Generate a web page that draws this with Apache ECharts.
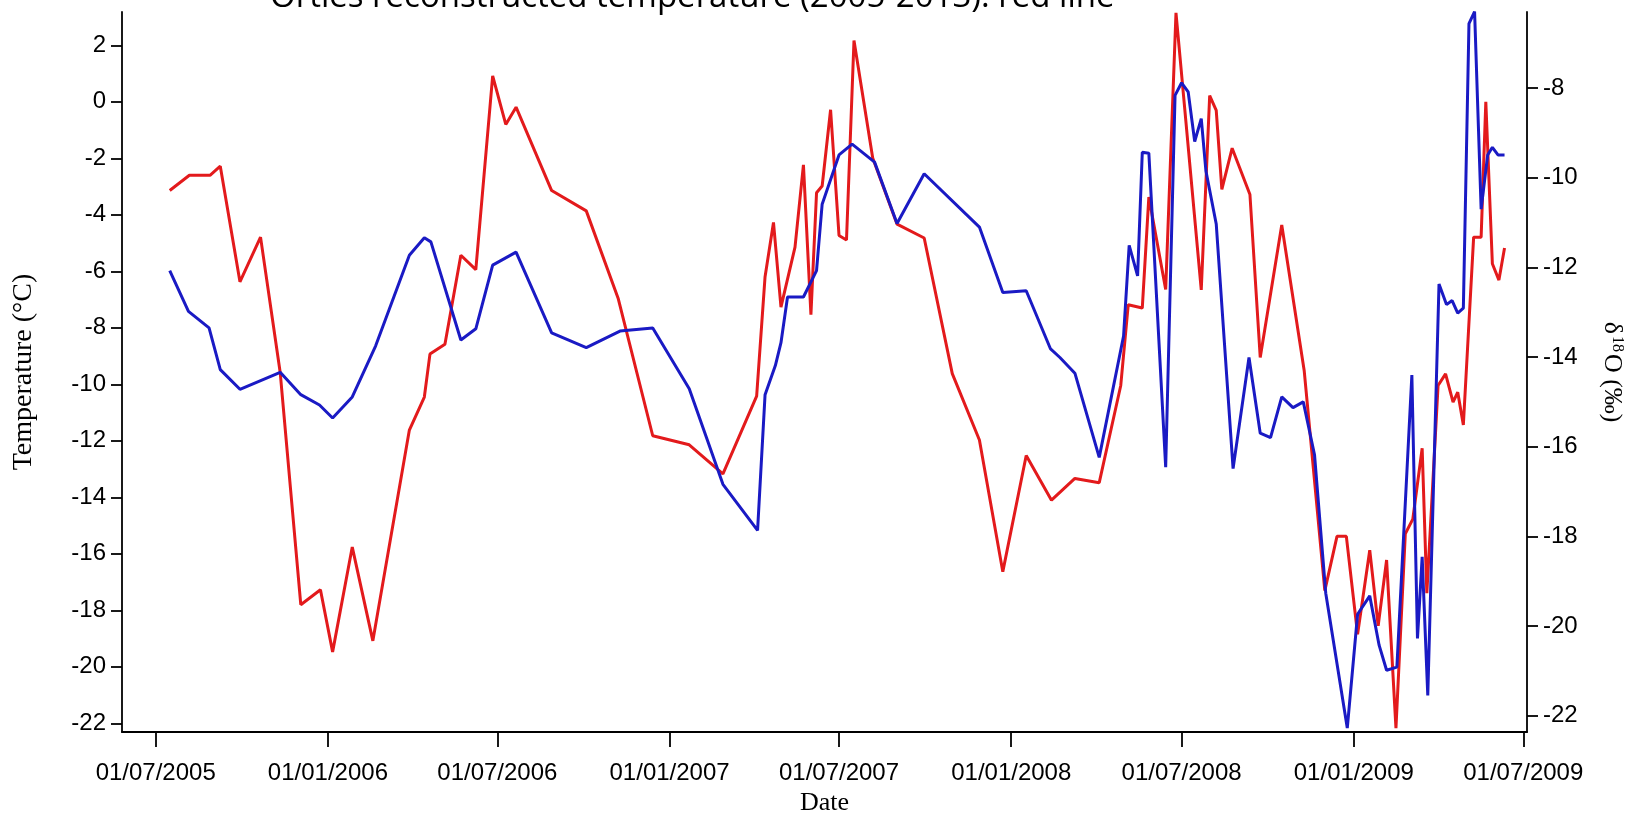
<!DOCTYPE html>
<html>
<head>
<meta charset="utf-8">
<script src="https://cdn.jsdelivr.net/npm/echarts@6/dist/echarts.min.js"></script>
<style>
  html, body { margin: 0; padding: 0; background: #ffffff; }
  #chart { width: 1639px; height: 821px; }
</style>
</head>
<body>
<div id="chart"></div>
<script>
// Reconstructed air temperature (left axis, red) and snow/ice δ18O (right axis, blue)
const titleText = 'Ortles reconstructed temperature (2005-2013): red line';

const tempDates = [
  '2005-07-16','2005-08-06','2005-08-28','2005-09-08','2005-09-29','2005-10-21','2005-11-11','2005-12-03',
  '2005-12-24','2006-01-06','2006-01-27','2006-02-18','2006-03-29','2006-04-14','2006-04-20','2006-05-06',
  '2006-05-23','2006-06-08','2006-06-26','2006-07-10','2006-07-21','2006-08-28','2006-10-04','2006-11-07',
  '2006-12-14','2007-01-22','2007-02-27','2007-04-04','2007-04-13','2007-04-22','2007-04-30','2007-05-15',
  '2007-05-24','2007-06-01','2007-06-07','2007-06-13','2007-06-22','2007-07-01','2007-07-09','2007-07-17',
  '2007-08-06','2007-09-01','2007-09-30','2007-10-30','2007-11-28','2007-12-23','2008-01-17','2008-02-13',
  '2008-03-09','2008-04-04','2008-04-27','2008-05-05','2008-05-20','2008-05-27','2008-06-14','2008-06-25',
  '2008-07-22','2008-07-31','2008-08-07','2008-08-13','2008-08-24','2008-09-12','2008-09-23','2008-10-16',
  '2008-11-09','2008-12-01','2008-12-14','2008-12-24','2009-01-05','2009-01-18','2009-01-27','2009-02-05',
  '2009-02-15','2009-02-25','2009-03-05','2009-03-15','2009-03-20','2009-04-01','2009-04-09','2009-04-17',
  '2009-04-22','2009-04-28','2009-05-09','2009-05-17','2009-05-22','2009-05-29','2009-06-05','2009-06-11'
];
const tempValues = [
  -3.14, -2.60, -2.60, -2.28, -6.37, -4.79, -9.58, -17.80,
  -17.27, -19.47, -15.76, -19.08, -11.62, -10.45, -8.93, -8.58,
  -5.43, -5.94, 0.92, -0.80, -0.19, -3.14, -3.86, -6.95,
  -11.82, -12.14, -13.17, -10.42, -6.19, -4.27, -7.27, -5.14,
  -2.23, -7.53, -3.22, -2.98, -0.28, -4.73, -4.89, 2.17,
  -1.99, -4.33, -4.82, -9.62, -11.97, -16.63, -12.52, -14.10,
  -13.33, -13.48, -10.04, -7.18, -7.30, -3.37, -6.64, 3.15,
  -6.66, 0.22, -0.30, -3.10, -1.64, -3.28, -9.05, -4.36,
  -9.52, -17.30, -15.38, -15.38, -18.85, -15.87, -18.55, -16.22,
  -22.17, -15.29, -14.77, -12.26, -17.39, -10.04, -9.63, -10.63,
  -10.28, -11.44, -4.79, -4.79, 0.00, -5.73, -6.31, -5.17
];

const isoDates = [
  '2005-07-16','2005-08-05','2005-08-27','2005-09-08','2005-09-29','2005-11-11','2005-12-03','2005-12-23',
  '2006-01-06','2006-01-27','2006-02-21','2006-03-29','2006-04-14','2006-04-21','2006-05-23','2006-06-08',
  '2006-06-26','2006-07-21','2006-08-28','2006-10-04','2006-11-09','2006-12-14','2007-01-22','2007-02-27',
  '2007-04-05','2007-04-13','2007-04-24','2007-04-30','2007-05-07','2007-05-24','2007-06-07','2007-06-13',
  '2007-07-01','2007-07-15','2007-08-08','2007-09-01','2007-09-30','2007-11-28','2007-12-23','2008-01-17',
  '2008-02-12','2008-02-22','2008-03-09','2008-04-04','2008-04-30','2008-05-06','2008-05-15','2008-05-20',
  '2008-05-27','2008-06-14','2008-06-24','2008-07-01','2008-07-08','2008-07-15','2008-07-22','2008-07-27',
  '2008-08-07','2008-08-25','2008-09-11','2008-09-23','2008-10-04','2008-10-16','2008-10-28','2008-11-08',
  '2008-11-20','2008-12-02','2008-12-25','2009-01-05','2009-01-18','2009-01-28','2009-02-05','2009-02-16',
  '2009-03-04','2009-03-10','2009-03-15','2009-03-21','2009-04-02','2009-04-10','2009-04-16','2009-04-22',
  '2009-04-28','2009-05-04','2009-05-10','2009-05-17','2009-05-24','2009-05-29','2009-06-04','2009-06-11'
];
const isoValues = [
  -12.07, -12.98, -13.35, -14.28, -14.72, -14.34, -14.84, -15.07,
  -15.36, -14.89, -13.75, -11.73, -11.34, -11.43, -13.62, -13.37,
  -11.95, -11.66, -13.46, -13.79, -13.42, -13.35, -14.71, -16.84,
  -17.87, -14.84, -14.19, -13.68, -12.66, -12.66, -12.07, -10.59,
  -9.49, -9.25, -9.65, -11.02, -9.91, -11.10, -12.56, -12.52,
  -13.82, -14.01, -14.36, -16.24, -13.53, -11.51, -12.19, -9.43,
  -9.45, -16.46, -8.16, -7.88, -8.08, -9.19, -8.68, -9.85,
  -11.03, -16.49, -14.01, -15.70, -15.80, -14.89, -15.13, -15.00,
  -16.18, -19.27, -22.28, -19.74, -19.33, -20.43, -20.99, -20.92,
  -14.40, -20.28, -18.46, -21.55, -12.37, -12.83, -12.74, -13.02,
  -12.91, -6.56, -6.29, -10.70, -9.49, -9.32, -9.49, -9.49
];

// Axis ranges and tick positions
const dateRange = ['2005-05-26', '2009-07-05'];
const dateTicks = ['2005-07-01','2006-01-01','2006-07-01','2007-01-01','2007-07-01','2008-01-01','2008-07-01','2009-01-01','2009-07-01'];
const tempRange = [-22.31, 3.18];
const tempTicks = [-22, -20, -18, -16, -14, -12, -10, -8, -6, -4, -2, 0, 2];
const isoRange = [-22.37, -6.30];
const isoTicks = [-22, -20, -18, -16, -14, -12, -10, -8];

function toTime(s) {
  const p = s.split('-').map(Number);
  return Date.UTC(p[0], p[1] - 1, p[2]);
}
function pad(n) { return (n < 10 ? '0' : '') + n; }
function fmtDate(v) {
  const d = new Date(Math.round(v));
  return pad(d.getUTCDate()) + '/' + pad(d.getUTCMonth() + 1) + '/' + d.getUTCFullYear();
}

const tickTimes = dateTicks.map(toTime);
const tempData = tempDates.map((d, i) => [toTime(d), tempValues[i]]);
const isoData = isoDates.map((d, i) => [toTime(d), isoValues[i]]);

const axisColor = '#000000';
const sansFont = '"Liberation Sans", Arial, sans-serif';
const serifFont = '"Liberation Serif", "Times New Roman", serif';

const chart = echarts.init(document.getElementById('chart'), null, { renderer: 'canvas' });
chart.setOption({
  animation: false,
  backgroundColor: '#ffffff',
  graphic: [{
    type: 'text',
    left: 270,
    top: -19,
    style: {
      text: titleText,
      font: '33px "Open Sans", sans-serif',
      fill: '#000000'
    }
  }],
  grid: { left: 122, right: 112, top: 12, bottom: 80, containLabel: false },
  xAxis: {
    type: 'value',
    min: toTime(dateRange[0]),
    max: toTime(dateRange[1]),
    name: 'Date',
    nameLocation: 'middle',
    nameGap: 57,
    nameTextStyle: { fontFamily: serifFont, fontSize: 26, color: '#000' },
    axisLine: { show: true, onZero: false, lineStyle: { color: axisColor, width: 1.8 } },
    axisTick: { show: true, customValues: tickTimes, length: 15, lineStyle: { color: axisColor, width: 1.8 } },
    axisLabel: {
      customValues: tickTimes,
      formatter: fmtDate,
      margin: 29,
      fontFamily: sansFont,
      fontSize: 24,
      color: '#000'
    },
    splitLine: { show: false }
  },
  yAxis: [{
    type: 'value',
    position: 'left',
    min: tempRange[0],
    max: tempRange[1],
    name: 'Temperature (°C)',
    nameLocation: 'middle',
    nameGap: 84,
    nameTextStyle: { fontFamily: serifFont, fontSize: 28, color: '#000' },
    axisLine: { show: true, onZero: false, lineStyle: { color: axisColor, width: 1.8 } },
    axisTick: { show: true, customValues: tempTicks, length: 11, lineStyle: { color: axisColor, width: 1.8 } },
    axisLabel: { customValues: tempTicks, margin: 16, fontFamily: sansFont, fontSize: 24, color: '#000' },
    splitLine: { show: false }
  }, {
    type: 'value',
    position: 'right',
    min: isoRange[0],
    max: isoRange[1],
    name: '{d|δ}{s|18}{d|O (‰)}',
    nameLocation: 'middle',
    nameRotate: -90,
    nameGap: 72,
    nameTextStyle: {
      color: '#000',
      rich: {
        d: { fontFamily: serifFont, fontSize: 26, color: '#000' },
        s: { fontFamily: serifFont, fontSize: 16, color: '#000', verticalAlign: 'top', padding: [0, 2, 0, 2] }
      }
    },
    axisLine: { show: true, onZero: false, lineStyle: { color: axisColor, width: 1.8 } },
    axisTick: { show: true, customValues: isoTicks, length: 11, lineStyle: { color: axisColor, width: 1.8 } },
    axisLabel: { customValues: isoTicks, margin: 16, fontFamily: sansFont, fontSize: 24, color: '#000' },
    splitLine: { show: false }
  }],
  series: [{
    name: 'Temperature',
    type: 'line',
    yAxisIndex: 0,
    data: tempData,
    showSymbol: false,
    lineStyle: { color: '#e31a1c', width: 3 },
    itemStyle: { color: '#e31a1c' },
    z: 2
  }, {
    name: 'δ18O',
    type: 'line',
    yAxisIndex: 1,
    data: isoData,
    showSymbol: false,
    lineStyle: { color: '#1a1ac4', width: 3 },
    itemStyle: { color: '#1a1ac4' },
    z: 3
  }]
});
</script>
</body>
</html>
